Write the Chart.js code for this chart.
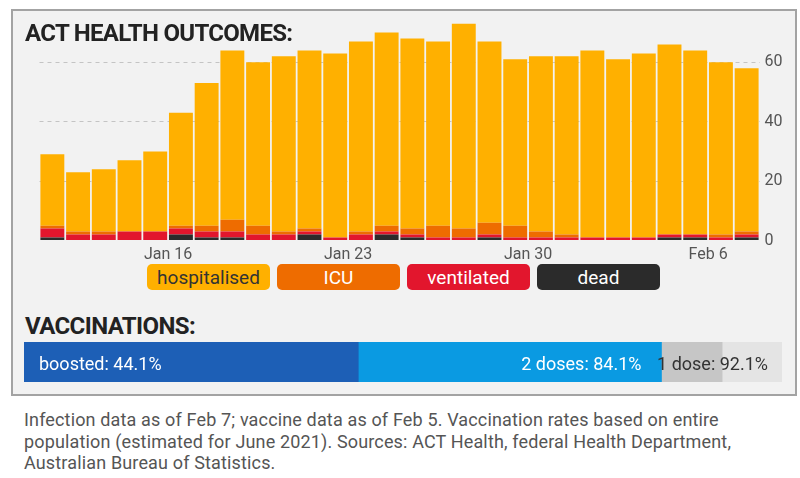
<!DOCTYPE html>
<html>
<head>
<meta charset="utf-8">
<script src="https://cdn.jsdelivr.net/npm/chart.js@4/dist/chart.umd.min.js"></script>
<style>
  html,body{margin:0;padding:0;background:#fff;}
  body{width:800px;height:478px;position:relative;overflow:hidden;font-family:Roboto,"Liberation Sans",sans-serif;}
  .panel{position:absolute;left:11px;width:782px;background:#f2f2f2;border:2px solid #a3a3a3;}
  #p1{top:9px;height:292px;}
  #p2{top:301px;height:93px;border-top:none;}
  .title{position:absolute;left:25px;font-weight:700;font-size:24px;color:#222;letter-spacing:-0.7px;line-height:24px;white-space:nowrap;}
  #t1{top:21px;}
  #t2{top:314px;letter-spacing:-0.6px;}
  #c1{position:absolute;left:0;top:0;}
  #c2{position:absolute;left:0;top:330px;}
  .pill{position:absolute;top:264px;width:123px;height:26px;border-radius:5px;text-align:center;font-size:19px;line-height:27px;color:#fff;}
  #foot{position:absolute;left:24px;top:409px;width:770px;font-size:18px;line-height:21.5px;color:#555;white-space:nowrap;letter-spacing:0.15px;}
</style>
</head>
<body>
<div class="panel" id="p1"></div>
<div class="panel" id="p2"></div>
<canvas id="c1" width="800" height="262"></canvas>
<div class="title" id="t1">ACT HEALTH OUTCOMES:</div>
<div id="legend"></div>
<div class="title" id="t2">VACCINATIONS:</div>
<canvas id="c2" width="800" height="60"></canvas>
<div id="foot">Infection data as of Feb 7; vaccine data as of Feb 5. Vaccination rates based on entire<br>population (estimated for June 2021). Sources: ACT Health, federal Health Department,<br>Australian Bureau of Statistics.</div>
<script>
// ---- data ----
const dates = ["Jan 11","Jan 12","Jan 13","Jan 14","Jan 15","Jan 16","Jan 17","Jan 18","Jan 19","Jan 20",
  "Jan 21","Jan 22","Jan 23","Jan 24","Jan 25","Jan 26","Jan 27","Jan 28","Jan 29","Jan 30",
  "Jan 31","Feb 1","Feb 2","Feb 3","Feb 4","Feb 5","Feb 6","Feb 7"];
const tickLabels = ["Jan 16","Jan 23","Jan 30","Feb 6"];
const dead        = [1,0,0,0,0,2,1,1,0,0,2,0,0,2,1,0,0,1,0,0,0,0,0,0,1,1,0,1];
const ventilated  = [3,2,2,3,3,2,2,2,2,2,1,1,2,1,1,1,1,1,1,1,1,1,1,1,1,1,1,1];
const icu         = [1,1,1,0,0,1,2,4,3,1,1,0,1,2,2,4,3,4,4,2,1,0,0,0,0,0,1,1];
const hospitalised= [24,20,21,24,27,38,48,57,55,59,60,62,64,65,64,62,69,61,56,59,60,63,60,62,64,62,58,55];
const seriesNames = ["dead","ventilated","ICU","hospitalised"];
const seriesColors = ["#2b2b2b","#e2162d","#ee6c00","#ffb000"];
const yTicks = [0,20,40,60];

const vaccLabels = ["boosted","2 doses","1 dose"];
const vaccValues = [44.1, 84.1, 92.1];
const vaccTotal = 100;
const vaccColors = ["#1d5fb6","#0a9ae2","#c6c6c6","#e4e4e4"];

// ---- legend (HTML pills) ----
const legendOrder = [3,2,1,0];
const legendEl = document.getElementById('legend');
legendOrder.forEach((si, k) => {
  const d = document.createElement('div');
  d.className = 'pill';
  d.style.left = (147 + k*130) + 'px';
  d.style.background = seriesColors[si];
  d.style.color = si === 3 ? '#333' : '#fff';
  d.textContent = seriesNames[si];
  legendEl.appendChild(d);
});

// ---- chart 1 ----
const chartLeft = 39.5, chartRight = 759.5;
const pitch = (chartRight - chartLeft) / dates.length;
const dataArrays = [dead, ventilated, icu, hospitalised];
new Chart(document.getElementById('c1'), {
  type: 'bar',
  data: {
    labels: dates,
    datasets: dataArrays.map((arr, i) => ({
      label: seriesNames[i],
      data: arr,
      backgroundColor: seriesColors[i],
      borderWidth: 0,
      barPercentage: 0.93,
      categoryPercentage: 1.0
    }))
  },
  options: {
    responsive: false,
    animation: false,
    events: [],
    layout: { padding: { left: chartLeft, right: 800 - chartRight - 36, top: 17.75, bottom: 0 } },
    plugins: { legend: { display: false }, tooltip: { enabled: false } },
    scales: {
      x: {
        stacked: true,
        grid: { display: false, drawTicks: false },
        border: { display: false },
        afterFit: s => { s.height = 21.5; },
        ticks: {
          autoSkip: false, maxRotation: 0, padding: 5,
          labelOffset: -pitch / 2,
          color: '#555', font: { family: 'Roboto', size: 16 },
          callback: function(v, i) { const l = dates[i]; return tickLabels.includes(l) ? l : ''; }
        }
      },
      y: {
        stacked: true, position: 'right', min: 0, max: 75,
        afterFit: s => { s.width = 36; },
        afterBuildTicks: s => { s.ticks = yTicks.map(v => ({ value: v })); },
        grid: {
          drawTicks: false,
          color: ctx => (ctx.tick && ctx.tick.value === 0) ? 'rgba(0,0,0,0)' : '#c4c4c4',
          lineWidth: 1
        },
        border: { display: false, dash: [4, 4] },
        ticks: { padding: 5, color: '#555', font: { family: 'Roboto', size: 16 } }
      }
    }
  }
});

// ---- chart 2: vaccinations ----
const vaccPlugin = {
  id: 'vaccLabels',
  afterDatasetsDraw(chart) {
    const ctx = chart.ctx, xs = chart.scales.x, a = chart.chartArea;
    const yc = (a.top + a.bottom) / 2 + 3;
    ctx.save();
    ctx.font = '18px Roboto';
    ctx.textBaseline = 'middle';
    ctx.fillStyle = '#fff';
    ctx.textAlign = 'left';
    ctx.fillText(vaccLabels[0] + ': ' + vaccValues[0] + '%', a.left + 15, yc);
    ctx.textAlign = 'right';
    ctx.fillText(vaccLabels[1] + ': ' + vaccValues[1] + '%', xs.getPixelForValue(vaccValues[1]) - 20, yc);
    ctx.fillStyle = '#333';
    ctx.fillText(vaccLabels[2] + ': ' + vaccValues[2] + '%', xs.getPixelForValue(vaccTotal) - 14, yc);
    ctx.restore();
  }
};
const vaccSets = vaccValues.map((v, i) => ({ data: [v], backgroundColor: vaccColors[i] }));
vaccSets.push({ data: [vaccTotal], backgroundColor: vaccColors[3] });
new Chart(document.getElementById('c2'), {
  type: 'bar',
  data: {
    labels: ['vaccinations'],
    datasets: vaccSets.map(d => Object.assign(d, { grouped: false, barPercentage: 1, categoryPercentage: 1, borderWidth: 0 }))
  },
  options: {
    indexAxis: 'y',
    responsive: false,
    animation: false,
    events: [],
    layout: { padding: { left: 24, right: 18, top: 12, bottom: 8 } },
    plugins: { legend: { display: false }, tooltip: { enabled: false } },
    scales: {
      x: { display: false, min: 0, max: vaccTotal },
      y: { display: false }
    }
  },
  plugins: [vaccPlugin]
});
</script>
</body>
</html>
